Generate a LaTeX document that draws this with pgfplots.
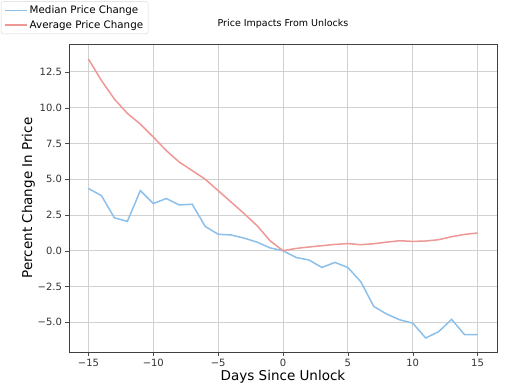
\documentclass[border=0pt]{standalone}
\usepackage{pgfplots}
\pgfplotsset{compat=1.18}
\usepackage{fontspec}
\setmainfont{DejaVu Sans}
\definecolor{medblue}{RGB}{140,192,234}
\definecolor{avgred}{RGB}{238,152,150}
\begin{document}
\begin{tikzpicture}
\begin{axis}[
  at={(69pt,32pt)}, anchor=south west,
  scale only axis, width=428pt, height=308pt,
  xmin=-16.5, xmax=16.5, ymin=-7.08, ymax=14.45,
  xtick={-15,-10,-5,0,5,10,15},
  xticklabels={−15,−10,−5,0,5,10,15},
  ytick={-5,-2.5,0,2.5,5,7.5,10,12.5},
  yticklabels={−5.0,−2.5,0.0,2.5,5.0,7.5,10.0,12.5},
  tick label style={font=\fontsize{10}{12}\selectfont, text=black!80},
  tick align=outside, major tick length=3.5pt,
  tick style={black!70},
  xtick pos=bottom, ytick pos=left,
  grid=major, grid style={black!18, line width=0.8pt},
  axis line style={black!75, line width=0.8pt},
  xlabel={Days Since Unlock}, ylabel={Percent Change In Price},
  label style={font=\fontsize{13.5}{16}\selectfont},
  xlabel style={yshift=3pt},
  ylabel style={yshift=-4pt},
  title={Price Impacts From Unlocks},
  title style={font=\fontsize{9.5}{11}\selectfont, at={(0.5,1)}, anchor=south, yshift=6pt},
  legend style={at={(-0.159,1.138)}, anchor=north west, font=\fontsize{10.3}{12.5}\selectfont,
    draw=black!15, rounded corners=2pt, inner xsep=3pt, inner ysep=2pt, row sep=1.5pt},
  legend cell align=left,
  legend image code/.code={\draw[#1, line width=1.6pt] (0pt,0pt) -- (22pt,0pt);},
]
\addplot[medblue, line width=1.5pt] coordinates {
(-15,4.35) (-14,3.85) (-13,2.3) (-12,2.05) (-11,4.2) (-10,3.3) (-9,3.65) (-8,3.2) (-7,3.25) (-6,1.7) (-5,1.15) (-4,1.1) (-3,0.88) (-2,0.6) (-1,0.2) (0,0)
(1,-0.47) (2,-0.65) (3,-1.17) (4,-0.82) (5,-1.17) (6,-2.17) (7,-3.9) (8,-4.43) (9,-4.83) (10,-5.06) (11,-6.1) (12,-5.66) (13,-4.8) (14,-5.87) (15,-5.87)};
\addlegendentry{Median Price Change}
\addplot[avgred, line width=1.5pt] coordinates {
(-15,13.4) (-14,11.9) (-13,10.6) (-12,9.6) (-11,8.85) (-10,7.95) (-9,7.0) (-8,6.2) (-7,5.6) (-6,5.0) (-5,4.2) (-4,3.4) (-3,2.6) (-2,1.75) (-1,0.7) (0,0)
(1,0.16) (2,0.26) (3,0.35) (4,0.44) (5,0.5) (6,0.42) (7,0.49) (8,0.6) (9,0.7) (10,0.65) (11,0.68) (12,0.77) (13,0.98) (14,1.14) (15,1.24)};
\addlegendentry{Average Price Change}
\end{axis}
\pgfresetboundingbox
\path[use as bounding box] (0pt,0pt) rectangle (505pt,384pt);
\end{tikzpicture}
\end{document}
